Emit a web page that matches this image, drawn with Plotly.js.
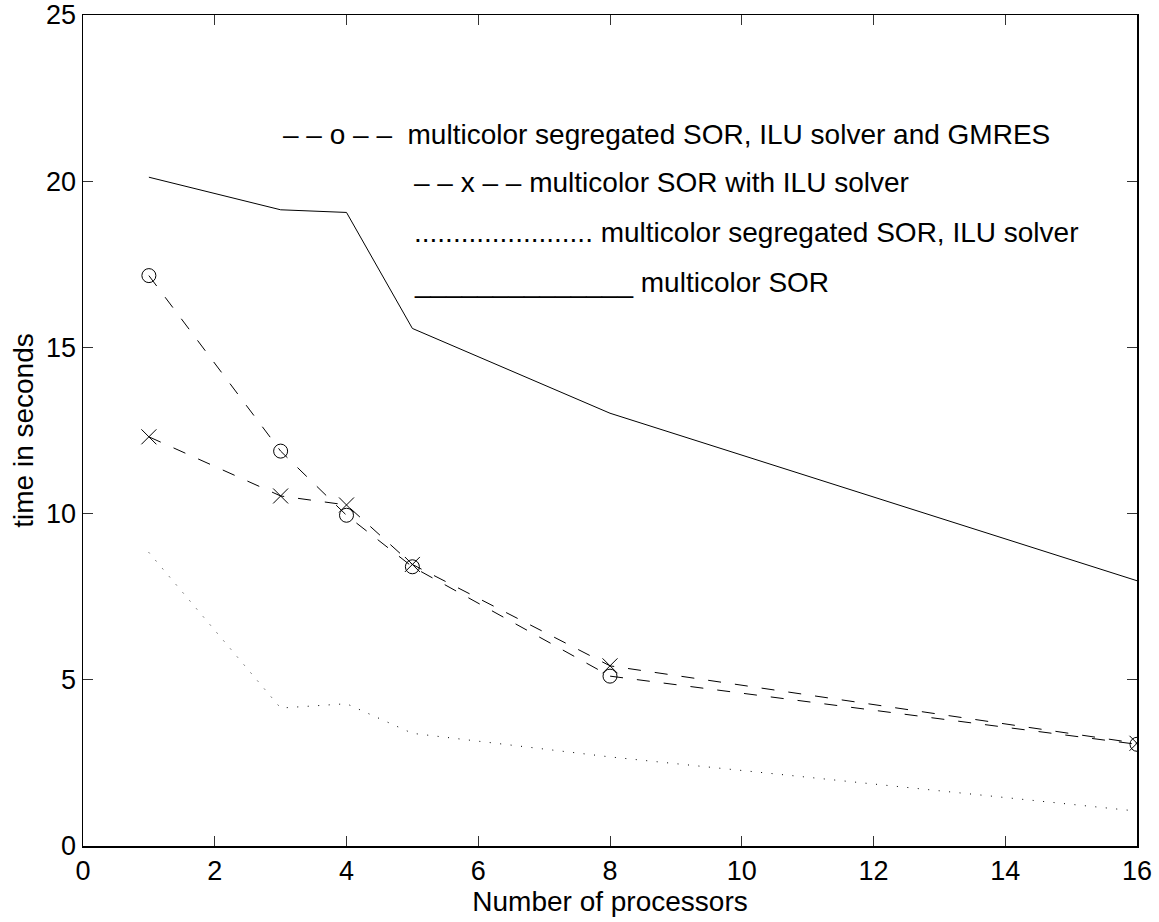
<!DOCTYPE html>
<html>
<head>
<meta charset="utf-8">
<script src="https://cdn.plot.ly/plotly-3.0.1.min.js"></script>
<style>html,body{margin:0;padding:0;background:#fff;}#chart{width:1159px;height:922px;}</style>
</head>
<body>
<div id="chart"></div>
<script>
const processors = [1, 3, 4, 5, 8, 16];
const segSorIluGmres = [17.16, 11.88, 9.95, 8.40, 5.11, 3.06];
const sorWithIlu = [12.31, 10.53, 10.26, 8.47, 5.42, 3.09];
const segSorIlu = [8.83, 4.15, 4.28, 3.39, 2.68, 1.05];
const multicolorSor = [20.12, 19.14, 19.06, 15.57, 13.02, 7.98];

const xTicks = [0, 2, 4, 6, 8, 10, 12, 14, 16];
const yTicks = [0, 5, 10, 15, 20, 25];

const legendLines = [
  "– – o – –  multicolor segregated SOR, ILU solver and GMRES",
  "– – x – – multicolor SOR with ILU solver",
  "....................... multicolor segregated SOR, ILU solver",
  "______________ multicolor SOR"
];
const legendX = [3.01, 5.0, 5.0, 5.0];
const legendY = [21.42, 19.95, 18.46, 16.94];

const FONT = "Liberation Sans, Arial, Helvetica, sans-serif";

const traces = [
  {x: processors, y: multicolorSor, mode: 'lines', line: {color: '#000', width: 1}},
  {x: processors, y: segSorIlu, mode: 'lines', line: {color: '#000', width: 1, dash: '1px,9.5px'}},
  {x: processors, y: sorWithIlu, mode: 'lines+markers', line: {color: '#000', width: 1, dash: '13px,14px'},
   marker: {symbol: 'x-thin-open', size: 15, color: '#000', line: {color: '#000', width: 1}}},
  {x: processors, y: segSorIluGmres, mode: 'lines+markers', line: {color: '#000', width: 1, dash: '13px,14px'},
   marker: {symbol: 'circle-open', size: 14, color: '#000', line: {color: '#000', width: 1}}}
];

const annotations = legendLines.map((t, i) => ({
  x: legendX[i], y: legendY[i], xref: 'x', yref: 'y', text: t, showarrow: false,
  xanchor: 'left', yanchor: 'middle', font: {family: FONT, size: 28, color: '#000'}
}));

const axisCommon = {
  showgrid: false, zeroline: false, showline: true, linecolor: '#000', linewidth: 1.5,
  mirror: 'ticks', ticks: 'inside', ticklen: 10, tickwidth: 1, tickcolor: '#333',
  tickfont: {family: FONT, size: 27, color: '#000'}
};

const layout = {
  width: 1159, height: 922,
  margin: {l: 83, r: 22, t: 15, b: 76, pad: 0},
  paper_bgcolor: '#fff', plot_bgcolor: '#fff',
  showlegend: false,
  font: {family: FONT, color: '#000'},
  xaxis: Object.assign({}, axisCommon, {
    range: [0, 16], tickvals: xTicks, ticktext: xTicks.map(String),
    title: {text: 'Number of processors', font: {family: FONT, size: 28, color: '#000'}, standoff: 2}
  }),
  yaxis: Object.assign({}, axisCommon, {
    range: [0, 25], tickvals: yTicks, ticktext: yTicks.map(String),
    title: {text: 'time in seconds', font: {family: FONT, size: 28, color: '#000'}, standoff: 4}
  }),
  annotations: annotations
};

Plotly.newPlot('chart', traces, layout, {displayModeBar: false, staticPlot: true});
</script>
</body>
</html>
